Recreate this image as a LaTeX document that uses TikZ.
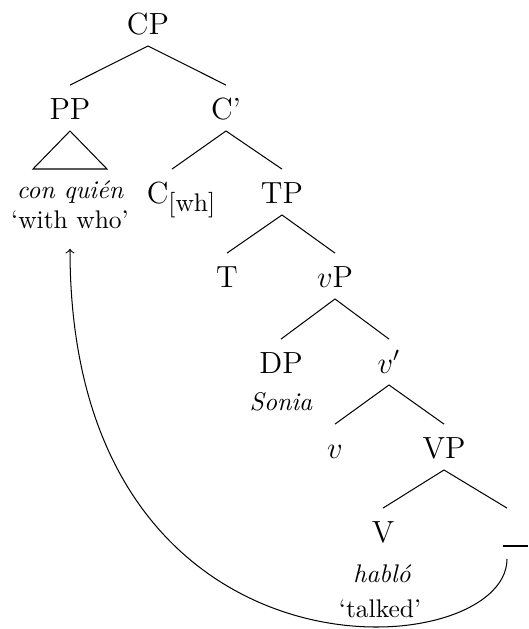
\documentclass[tikz,border=0pt]{standalone}
\usepackage{fontspec}
\usetikzlibrary{calc}
\tikzset{
  lab/.style={anchor=base, font=\large, inner sep=0pt, outer sep=0pt, text height=13.3pt, text depth=4.7pt},
  gloss/.style={anchor=base, font=\normalsize},
  ital/.style={anchor=base, font=\normalsize\itshape},
  branch/.style={draw, line width=0.4pt},
}
\begin{document}
\begin{tikzpicture}[x=0.3922pt, y=-0.3922pt]
\useasboundingbox (0,0) rectangle (528,629);
% nodes
\node[lab] (cp) at (148,34) {CP};
\node[lab] (pp) at (70,119) {PP};
\node[lab] (cbar) at (226,119) {C'};
\node[ital] (conq) at (70,198) {con quién};
\node[gloss] (ww) at (70,228) {`with who'};
\node[lab] (cwh) at (181,203) {C\raisebox{-3.5pt}{\normalsize[wh]}};
\node[lab] (tp) at (282,203) {TP};
\node[lab] (t) at (227,287) {T};
\node[lab] (vp) at (335,287) {$v$P};
\node[lab] (dp) at (281,373) {DP};
\node[ital] (sonia) at (281,410) {Sonia};
\node[lab] (vbar) at (389,373) {$v'$};
\node[lab] (v) at (335,458) {$v$};
\node[lab] (vpp) at (444,458) {VP};
\node[lab] (vv) at (383,542) {V};
\node[lab] (trace) at (515.5,542) {\rule[-1.9pt]{9.8pt}{0.7pt}};
\node[ital] (hablo) at (382,582) {habló};
\node[gloss] (talked) at (380,617) {`talked'};
% triangle
\coordinate (tl) at (33,169);
\coordinate (tr) at (107,169);
\draw (pp.south) -- (tl) -- (tr) -- cycle;
% branches
\draw[branch] (cp.south) -- (pp.north);
\draw[branch] (cp.south) -- (cbar.north);
\draw[branch] (cbar.south) -- ($(cwh.north)+(-9,0)$);
\draw[branch] (cbar.south) -- (tp.north);
\draw[branch] (tp.south) -- (t.north);
\draw[branch] (tp.south) -- (vp.north);
\draw[branch] (vp.south) -- (dp.north);
\draw[branch] (vp.south) -- (vbar.north);
\draw[branch] (vbar.south) -- (v.north);
\draw[branch] (vbar.south) -- (vpp.north);
\draw[branch] (vpp.south) -- (vv.north);
\draw[branch] (vpp.south) -- ($(trace.north)+(-8.5,0)$);
% movement arrow
\draw[->] ($(trace.south)+(-8.5,5)$) .. controls (507,666) and (70,700) .. ($(ww.south)+(0,11.5)$);
\end{tikzpicture}
\end{document}
